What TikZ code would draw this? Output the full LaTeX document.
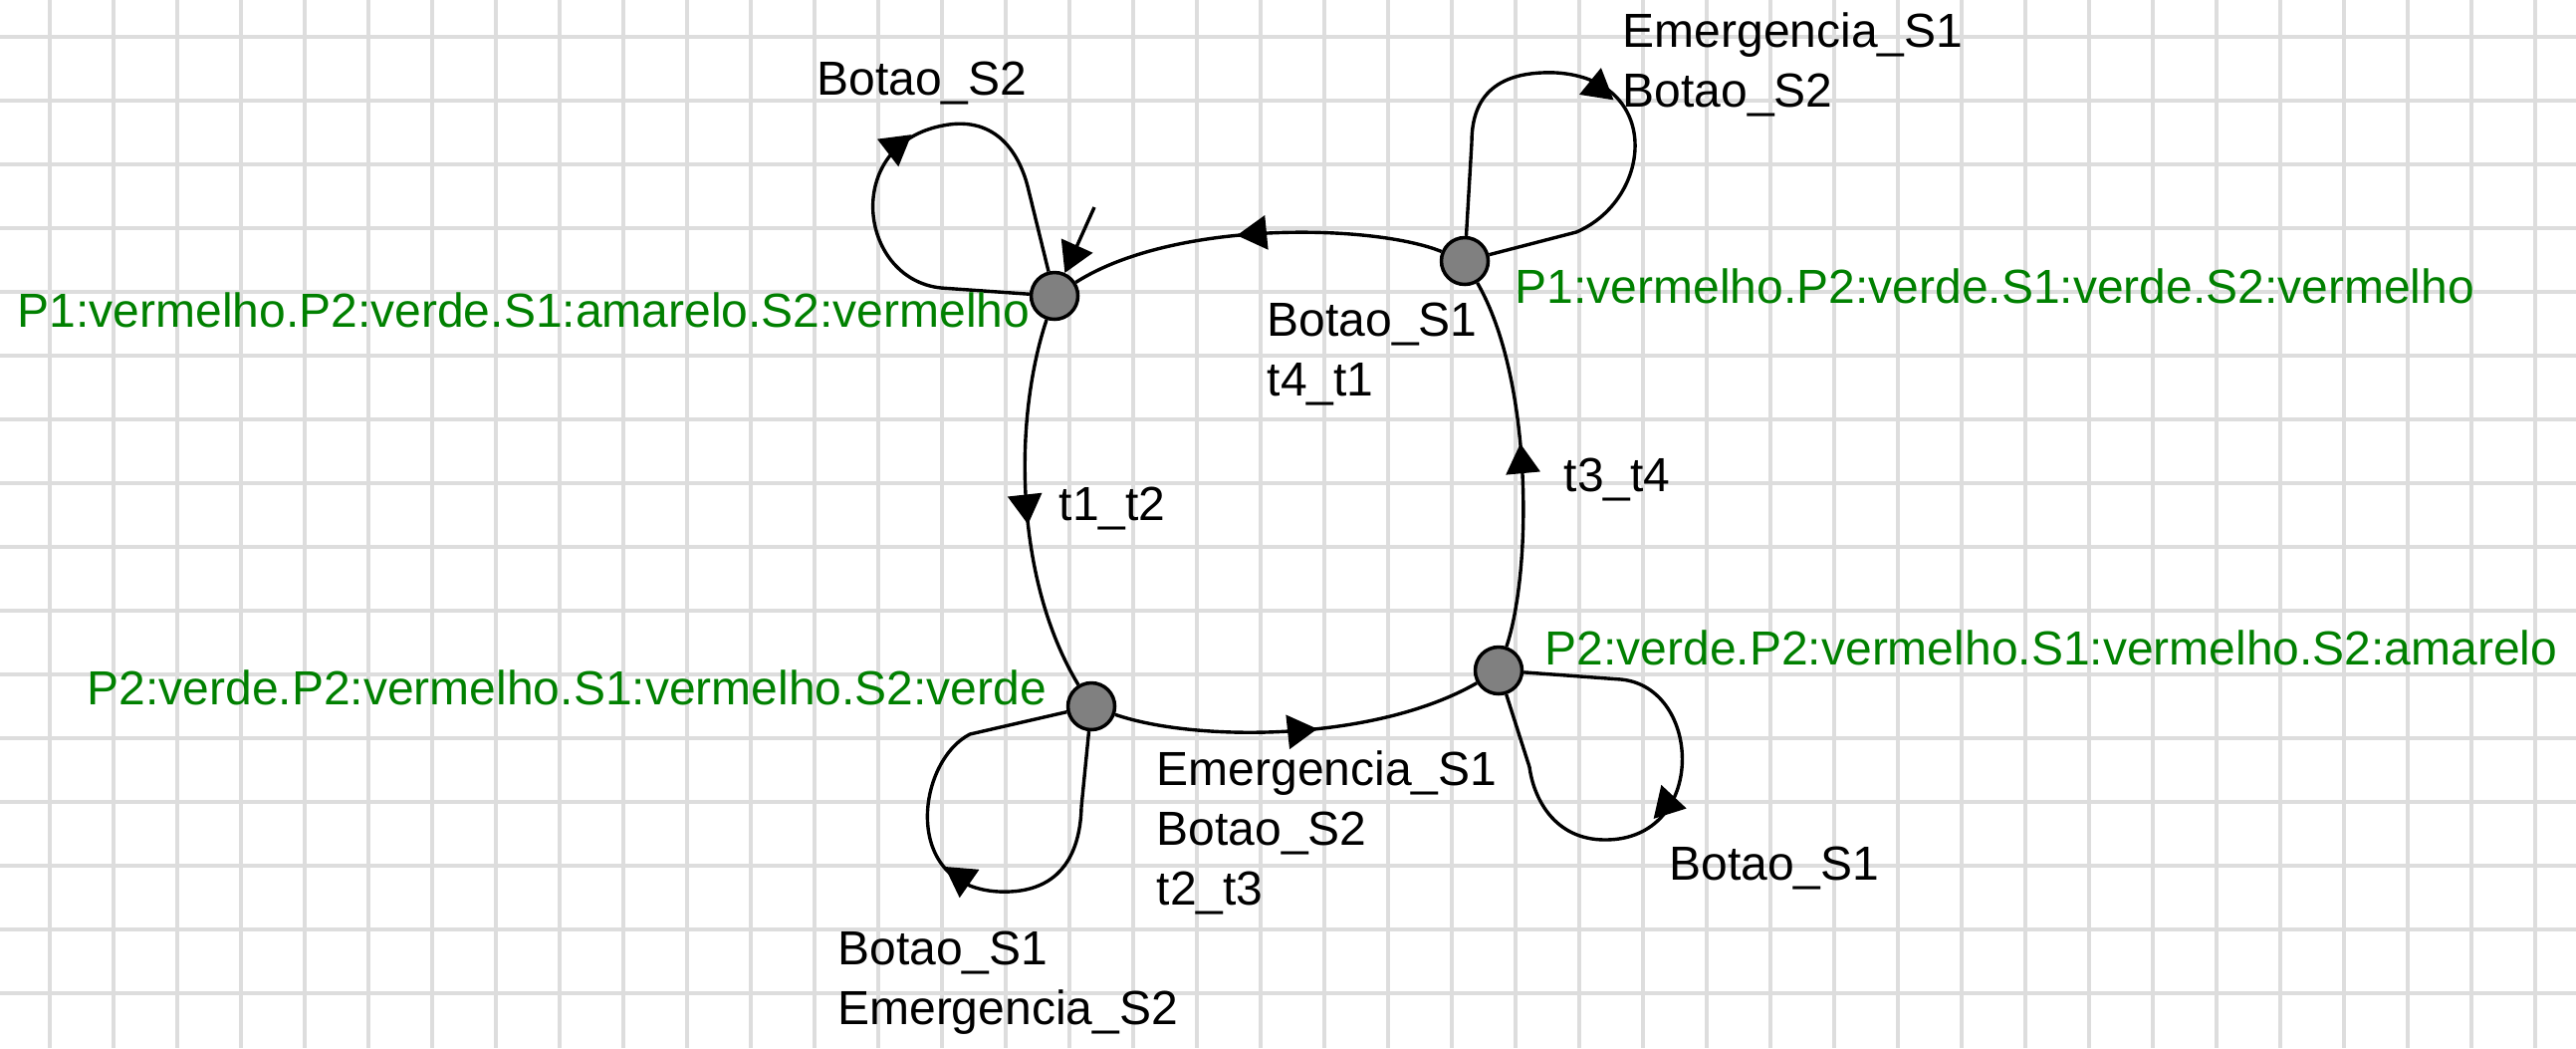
\documentclass[tikz,border=0pt]{standalone}
\usepackage{fontspec}
\setmainfont{Liberation Sans}
\usepackage{tikz}
\usetikzlibrary{automata}
\usetikzlibrary{positioning}
\usetikzlibrary{arrows.meta}
\usetikzlibrary{decorations.markings}
\definecolor{gridgray}{HTML}{DDDDDD}
\definecolor{stategray}{HTML}{808080}
\definecolor{labelgreen}{HTML}{008000}
\tikzset{	x=0.25pt, y=-0.25pt,
	>={Triangle[length=7.5pt,width=8.5pt]},
	every state/.style={
		line width=0.875pt,
		fill=stategray,
		minimum size=11.75pt,
		inner sep=0pt},
	gridline/.style={gridgray, line width=1pt},
	trans/.style={draw, line width=0.85pt},
	midarrow/.style={postaction={decorate,
		decoration={markings, mark=at position #1 with {\arrow{>}}}}},
	looparrow/.style 2 args={postaction={decorate,
		decoration={markings, mark=at position #1 with {%
			\pgftransformxshift{-3.75pt}\pgftransformrotate{#2}\pgftransformxshift{3.75pt}\arrow{>}}}}},
	lbl/.style={anchor=base west, inner sep=0pt, align=left,
		font=\fontsize{12}{15}\selectfont},
	statelbl/.style={lbl, text=labelgreen}
}
\begin{document}
\begin{tikzpicture}
	\useasboundingbox (0,0) rectangle (2587,1052);
	\fill[white] (0,0) rectangle (2587,1052);
	\foreach \i in {0,...,39}
		\draw[gridline] ({50+64*\i},0) -- ({50+64*\i},1052);
	\foreach \j in {0,...,15}
		\draw[gridline] (0,{36.5+64*\j}) -- (2587,{36.5+64*\j});

	\node[state] (A) at (1059,297) {};
	\node[state] (B) at (1471,262) {};
	\node[state] (C) at (1505,673) {};
	\node[state] (D) at (1096,709) {};
	\coordinate (initA) at (1099,208);

	\draw[trans, ->] (initA) -- (A);
	\draw[trans, midarrow=0.55] (A) .. controls (1018,420) and (1018,580) .. (D);
	\draw[trans, midarrow=0.55] (D) .. controls (1200,745) and (1380,745) .. (C);
	\draw[trans, midarrow=0.55] (C) .. controls (1539,570) and (1539,380) .. (B);
	\draw[trans, midarrow=0.55] (B) .. controls (1380,225) and (1180,220) .. (A);
	% laços
	\draw[trans, looparrow={0.55}{8}] (A) -- (945,289) .. controls (860,280) and (845,140) .. (953,125)
		.. controls (1005,118) and (1025,160) .. (1032,187) -- (A);
	\draw[trans, looparrow={0.539}{-81}] (B) -- (1583,233) .. controls (1660,200) and (1670,80) .. (1563,73)
		.. controls (1490,70) and (1478,110) .. (1478,143) -- (B);
	\draw[trans, looparrow={0.514}{119}] (C) -- (1628,682) .. controls (1710,690) and (1715,843) .. (1612,843)
		.. controls (1560,843) and (1540,800) .. (1536,770) -- (C);
	\draw[trans, looparrow={0.55}{-77}] (D) -- (974,737) .. controls (920,765) and (905,890) .. (1003,895)
		.. controls (1070,898) and (1085,850) .. (1086,810) -- (D);

	\node[statelbl] (labA) at (17,328) {P1:vermelho.P2:verde.S1:amarelo.S2:vermelho};
	\node[statelbl] (labB) at (1521,304) {P1:vermelho.P2:verde.S1:verde.S2:vermelho};
	\node[statelbl] (labC) at (1551,667) {P2:verde.P2:vermelho.S1:vermelho.S2:amarelo};
	\node[statelbl] (labD) at (87,707) {P2:verde.P2:vermelho.S1:vermelho.S2:verde};

	\node[lbl] (evAA) at (819.5,95.4) {Botao\_S2};
	\node[lbl] (evBB) at (1629,107.4) {Emergencia\_S1\\Botao\_S2};
	\node[lbl] (evAD) at (1063,522) {t1\_t2};
	\node[lbl] (evCB) at (1570,493) {t3\_t4};
	\node[lbl] (evBA) at (1272,397) {Botao\_S1\\t4\_t1};
	\node[lbl] (evDC) at (1161,908) {Emergencia\_S1\\Botao\_S2\\t2\_t3};
	\node[lbl] (evDD) at (840.5,1028) {Botao\_S1\\Emergencia\_S2};
	\node[lbl] (evCC) at (1675.5,883) {Botao\_S1};
\end{tikzpicture}
\end{document}
